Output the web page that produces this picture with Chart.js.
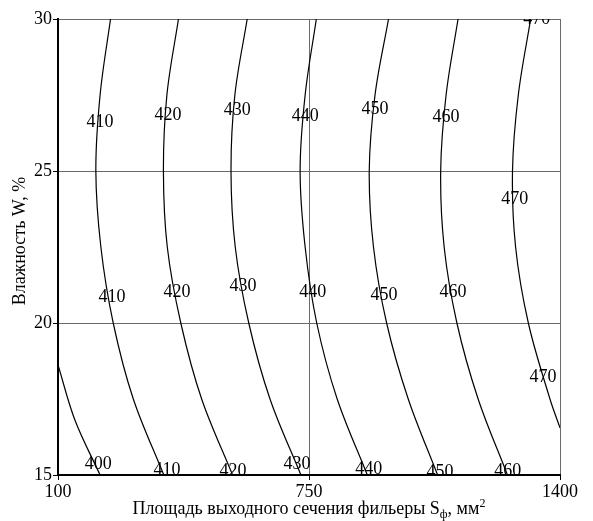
<!DOCTYPE html>
<html><head><meta charset="utf-8">
<script src="https://cdn.jsdelivr.net/npm/chart.js@4"></script>
<style>html,body{margin:0;padding:0;background:#fff}#wrap{width:593px;height:521px}</style>
</head><body><div id="wrap"><canvas id="c" width="593" height="521"></canvas></div>
<script>
// ---- data ----
const xTicks = [100, 750, 1400];
const yTicks = [15, 20, 25, 30];
const wLevels = [30, 27.5, 25, 22.5, 20, 17.5, 15];
const w400 = [18.62, 16.8, 15];
const s400 = [100, 144, 209];
const s410 = [236, 209, 198, 211, 243, 295, 374];
const s420 = [412, 382, 373, 383, 418, 472, 552];
const s430 = [590, 558, 548, 559, 594, 649, 729];
const s440 = [769, 740, 727, 740, 770, 823, 901];
const s450 = [956, 921, 906, 917, 951, 1007, 1083];
const s460 = [1136, 1105, 1091, 1100, 1133, 1188, 1264];
const w470 = [30, 27.5, 25, 22.5, 20, 17.5, 16.55];
const s470 = [1324, 1292, 1277, 1285, 1318, 1374, 1400];
const labelText = ['410','420','430','440','450','460','470','470',
                   '410','420','430','440','450','460','470',
                   '400','410','420','430','440','450','460'];
const labelS = [209, 385, 564, 740, 921, 1105, 1340, 1283,
                240, 408, 579, 760, 944, 1123, 1356,
                204, 382, 553, 719, 905, 1089, 1265];
const labelW = [26.61, 26.84, 27.01, 26.81, 27.04, 26.78, 30.0, 24.08,
                20.86, 21.02, 21.22, 21.02, 20.92, 21.02, 18.22,
                15.36, 15.16, 15.13, 15.36, 15.2, 15.1, 15.13];
const xTitle = 'Площадь выходного сечения фильеры S';
const xTitleSub = 'ф';
const xTitleEnd = ', мм';
const xTitleSup = '2';
const yTitle = 'Влажность W, %';

// ---- build ----
const SERIF = '"Liberation Serif", "Times New Roman", serif';
function pts(sArr, wArr) { return sArr.map((s, i) => ({ x: s, y: wArr[i] })); }
const curves = [
  pts(s400, w400), pts(s410, wLevels), pts(s420, wLevels), pts(s430, wLevels),
  pts(s440, wLevels), pts(s450, wLevels), pts(s460, wLevels), pts(s470, w470)
];
const datasets = curves.map(d => ({
  data: d, showLine: true, borderColor: '#000', borderWidth: 1.2,
  pointRadius: 0, tension: 0.35, fill: false
}));

const labelPlugin = {
  id: 'contourLabels',
  afterDatasetsDraw(chart) {
    const { ctx, chartArea: a, scales: { x, y } } = chart;
    ctx.save();
    ctx.beginPath();
    ctx.rect(a.left, a.top, a.right - a.left, a.bottom - a.top);
    ctx.clip();
    ctx.font = '18px ' + SERIF;
    ctx.fillStyle = '#000';
    ctx.textAlign = 'center';
    ctx.textBaseline = 'middle';
    labelText.forEach((t, i) => {
      ctx.fillText(t, x.getPixelForValue(labelS[i]), y.getPixelForValue(labelW[i]));
    });
    ctx.restore();
  }
};

const titlePlugin = {
  id: 'axisTitles',
  afterDraw(chart) {
    const { ctx, chartArea: a } = chart;
    ctx.save();
    ctx.fillStyle = '#000';
    ctx.textBaseline = 'alphabetic';
    ctx.textAlign = 'left';
    const big = '18px ' + SERIF, small = '12px ' + SERIF;
    const parts = [[xTitle, big, 0], [xTitleSub, small, 4], [xTitleEnd, big, 0], [xTitleSup, small, -7]];
    let total = 0;
    parts.forEach(p => { ctx.font = p[1]; total += ctx.measureText(p[0]).width; });
    let cx = (a.left + a.right) / 2 - total / 2;
    const base = 514;
    parts.forEach(p => { ctx.font = p[1]; ctx.fillText(p[0], cx, base + p[2]); cx += ctx.measureText(p[0]).width; });
    ctx.translate(25, 241);
    ctx.rotate(-Math.PI / 2);
    ctx.font = big;
    ctx.textAlign = 'center';
    ctx.fillText(yTitle, 0, 0);
    ctx.restore();
  }
};

new Chart(document.getElementById('c'), {
  type: 'scatter',
  data: { datasets },
  options: {
    responsive: false, animation: false, devicePixelRatio: 1,
    layout: { padding: { top: 19, right: 33, left: 0, bottom: 0 } },
    plugins: { legend: { display: false }, tooltip: { enabled: false }, title: { display: false } },
    scales: {
      x: {
        type: 'linear', min: 100, max: 1400,
        afterBuildTicks: s => { s.ticks = xTicks.map(v => ({ value: v })); },
        afterFit: s => { s.height = 46; },
        ticks: { font: { family: SERIF, size: 18 }, color: '#000', padding: 1, maxRotation: 0, callback: v => String(v) },
        grid: { color: '#6a6a6a', lineWidth: 1, tickLength: 5, tickColor: '#000' },
        border: { display: true, color: '#000', width: 2 }
      },
      y: {
        type: 'linear', min: 15, max: 30,
        afterBuildTicks: s => { s.ticks = yTicks.map(v => ({ value: v })); },
        afterFit: s => { s.width = 58; },
        ticks: { font: { family: SERIF, size: 18 }, color: '#000', padding: 1, callback: v => String(v) },
        grid: { color: '#6a6a6a', lineWidth: 1, tickLength: 5, tickColor: '#000' },
        border: { display: true, color: '#000', width: 2 }
      }
    }
  },
  plugins: [labelPlugin, titlePlugin]
});
</script>
</body></html>
